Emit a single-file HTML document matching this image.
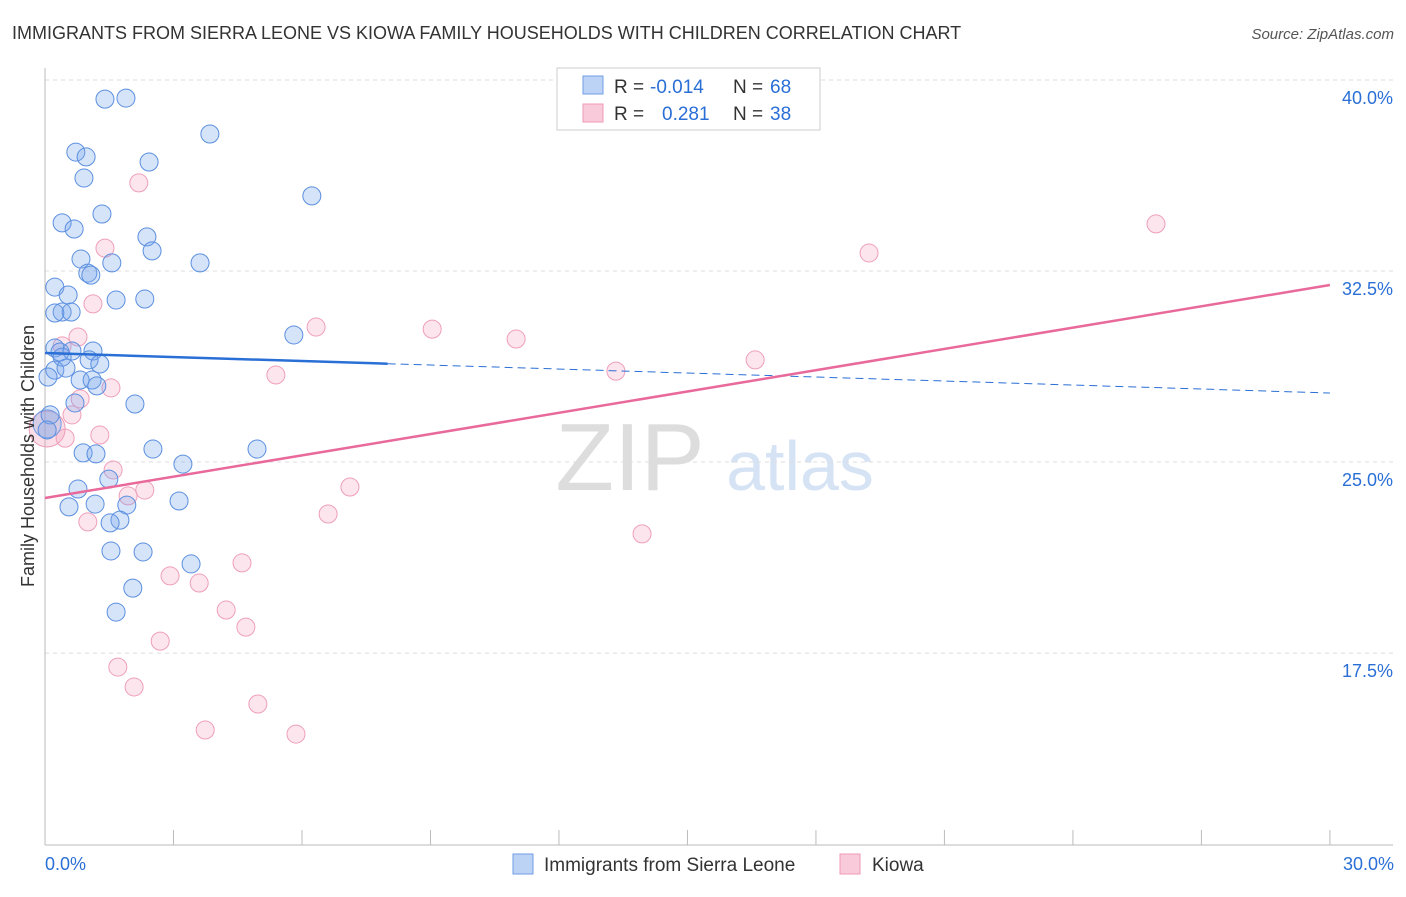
<!DOCTYPE html>
<html><head><meta charset="utf-8"><style>
body{margin:0;background:#fff;font-family:"Liberation Sans",sans-serif}
svg text{font-family:"Liberation Sans",sans-serif}
</style></head><body>
<svg width="1406" height="892">
<text x="12" y="39" font-size="18" fill="#333">IMMIGRANTS FROM SIERRA LEONE VS KIOWA FAMILY HOUSEHOLDS WITH CHILDREN CORRELATION CHART</text>
<text x="1394" y="39" font-size="15" fill="#555" text-anchor="end" font-style="italic">Source: ZipAtlas.com</text>
<text x="630" y="490" font-size="96" fill="#ddd" text-anchor="middle" font-family="Liberation Serif">ZIP</text>
<text x="800" y="490" font-size="70" fill="#d5e3f5" text-anchor="middle">atlas</text>
<g id="grid"></g><g id="axes"></g><g id="pts"></g><g id="lines"></g>
<text transform="translate(34,456) rotate(-90)" font-size="18" fill="#333" text-anchor="middle">Family Households with Children</text>
<rect x="557" y="68" width="263" height="62" fill="#fff" stroke="#ccc"/>
<rect x="583" y="76" width="20" height="18" fill="#bcd3f5" stroke="#6f9ee6"/>
<rect x="583" y="104" width="20" height="18" fill="#f9cad9" stroke="#ee9ab5"/>
<text y="93" font-size="19"><tspan x="614" fill="#333">R = </tspan><tspan x="650" fill="#2a6fd6">-0.014</tspan><tspan x="733" fill="#333">N = </tspan><tspan x="770" fill="#2a6fd6">68</tspan></text>
<text y="120" font-size="19"><tspan x="614" fill="#333">R = </tspan><tspan x="662" fill="#2a6fd6">0.281</tspan><tspan x="733" fill="#333">N = </tspan><tspan x="770" fill="#2a6fd6">38</tspan></text>
<rect x="513" y="854" width="20" height="20" fill="#bcd3f5" stroke="#6f9ee6"/>
<text x="544" y="871" font-size="19" fill="#333">Immigrants from Sierra Leone</text>
<rect x="840" y="854" width="20" height="20" fill="#f9cad9" stroke="#ee9ab5"/>
<text x="872" y="871" font-size="19" fill="#333">Kiowa</text>
<text x="45" y="870" font-size="18" fill="#2a6fd6">0.0%</text>
<text x="1394" y="870" font-size="18" fill="#2a6fd6" text-anchor="end">30.0%</text>
</svg>
<script>
const yTicks=[40,32.5,25,17.5];
const yTickLabels=["40.0%","32.5%","25.0%","17.5%"];
const blueX=[1.40,1.89,3.85,0.72,0.96,2.43,0.91,6.23,1.33,0.40,0.68,2.38,2.50,3.62,1.56,0.84,1.00,1.07,0.23,0.54,1.66,2.33,0.40,0.61,0.23,5.81,0.23,0.35,0.63,1.12,1.03,0.40,1.28,0.23,0.49,0.07,0.82,1.10,1.21,2.10,0.70,0.12,2.52,0.89,1.19,4.95,3.22,1.49,0.77,0.56,1.17,3.13,1.91,1.75,1.52,1.54,2.29,3.41,2.05,1.66,0.05];
const blueY=[39.25,39.29,37.88,37.17,36.98,36.78,36.15,35.45,34.74,34.39,34.15,33.84,33.29,32.82,32.82,32.97,32.42,32.34,31.87,31.56,31.36,31.40,30.89,30.89,30.85,29.99,29.48,29.32,29.36,29.36,29.01,29.12,28.85,28.61,28.69,28.34,28.22,28.22,27.99,27.28,27.32,26.85,25.51,25.36,25.32,25.51,24.92,24.33,23.94,23.24,23.35,23.47,23.31,22.72,22.61,21.51,21.47,21.00,20.05,19.11,26.26];
const pinkX=[2.19,1.40,19.24,25.94,1.12,6.33,9.04,11.00,0.77,0.40,13.33,16.58,5.39,1.54,0.82,0.63,0.47,1.28,1.59,7.12,1.94,2.33,1.00,6.61,13.94,2.92,3.60,4.60,4.23,4.69,2.69,1.70,2.08,4.97,3.74,5.86];
const pinkY=[35.96,33.40,33.21,34.35,31.21,30.30,30.22,29.83,29.91,29.56,28.57,29.01,28.42,27.91,27.48,26.85,25.94,26.06,24.69,24.02,23.67,23.90,22.65,22.96,22.18,20.53,20.25,21.04,19.19,18.52,17.97,16.95,16.17,15.50,14.48,14.32];
const blueTrend=[29.28,27.71];
const pinkTrend=[23.59,31.95];
const NS="http://www.w3.org/2000/svg";
const X=v=>45+v*42.83, Y=v=>80+(40-v)*25.47;
function mk(t,a,p){const e=document.createElementNS(NS,t);for(const k in a)e.setAttribute(k,a[k]);p.appendChild(e);return e;}
const grid=document.getElementById('grid'),axes=document.getElementById('axes'),pts=document.getElementById('pts'),lines=document.getElementById('lines');
yTicks.forEach((t,i)=>{
 const l=mk('line',{x1:45,x2:1393,y1:Y(t),y2:Y(t),stroke:'#ddd','stroke-dasharray':'4,4'},grid);
 
 
 const tx=mk('text',{x:1393,y:Y(t)+24,'font-size':18,fill:'#2a6fd6','text-anchor':'end'},grid);
 tx.textContent=yTickLabels[i];
 
 
});
let a=mk('line',{x1:45,x2:45,y1:68,y2:845,stroke:'#bbb'},axes);


a=mk('line',{x1:45,x2:1393,y1:845,y2:845,stroke:'#bbb'},axes);


for(let i=0;i<=10;i++){const t=mk('line',{x1:X(i*3),x2:X(i*3),y1:830,y2:845,stroke:'#bbb'},axes);
 
 }
let big=mk('circle',{cx:X(0.05),cy:Y(26.3),r:18,fill:'rgba(240,150,180,0.3)',stroke:'#ee9ab5'},pts);


pinkX.forEach((v,i)=>{const c=mk('circle',{cx:X(v),cy:Y(pinkY[i]),r:9,fill:'rgba(244,170,195,0.3)',stroke:'#ef9fba'},pts);
 
 });
big=mk('circle',{cx:X(0.05),cy:Y(26.5),r:14,fill:'rgba(110,150,220,0.25)',stroke:'#6f9ee6'},pts);


blueX.forEach((v,i)=>{const c=mk('circle',{cx:X(v),cy:Y(blueY[i]),r:9,fill:'rgba(120,165,235,0.3)',stroke:'#5b8fe0'},pts);
 
 });
const by=x=>blueTrend[0]+(blueTrend[1]-blueTrend[0])*x/30;
let l=mk('line',{x1:X(0),y1:Y(by(0)),x2:X(8),y2:Y(by(8)),stroke:'#2a6fd6','stroke-width':2.5},lines);


l=mk('line',{x1:X(8),y1:Y(by(8)),x2:X(30),y2:Y(by(30)),stroke:'#2a6fd6','stroke-width':1,'stroke-dasharray':'8,5'},lines);


l=mk('line',{x1:X(0),y1:Y(pinkTrend[0]),x2:X(30),y2:Y(pinkTrend[1]),stroke:'#e8699a','stroke-width':2.5},lines);


</script>
</body></html>
